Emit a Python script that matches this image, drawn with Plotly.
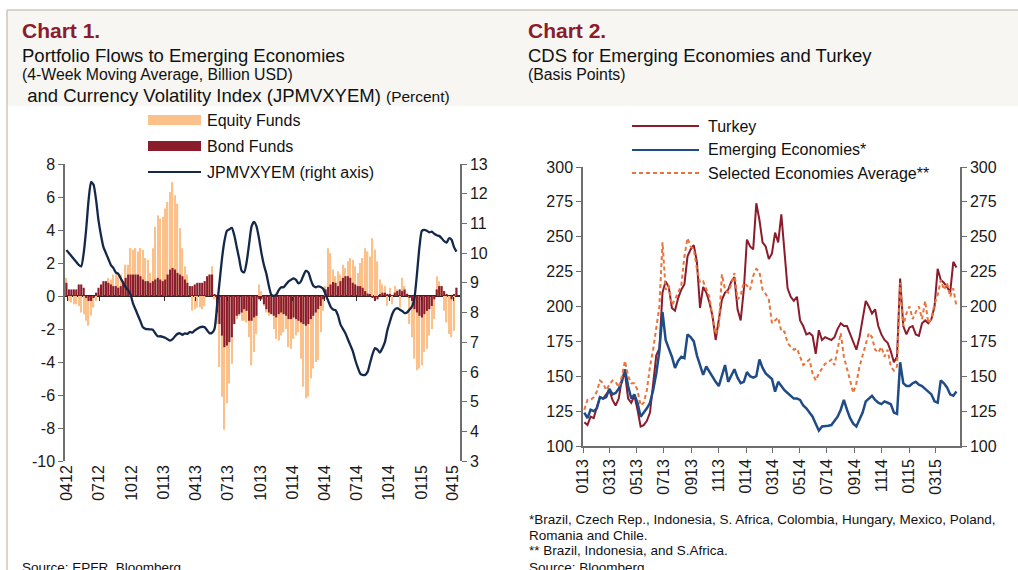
import pandas as pd
import plotly.graph_objects as go

# ---- Chart 1: weekly portfolio flows (bn USD) and JPMVXYEM (%) ----
flow_weeks = pd.date_range("2012-03-30", periods=159, freq="7D")

equity_funds = [
    1.1, -0.3, -0.4, -0.5, -0.5, -0.6, -1.0, -1.1, -1.5, -1.8,
    -1.2, -0.7, -0.3, 0.2, 0.6, 0.7, 0.8, 1.1, 1.0, 1.3,
    1.4, 1.2, 1.3, 0.9, 1.9, 1.9, 2.9, 2.8, 2.9, 2.7,
    2.9, 2.8, 2.3, 2.2, 1.4, 2.9, 4.2, 4.9, 4.7, 4.8,
    5.3, 5.7, 6.3, 6.9, 6.1, 5.6, 4.1, 2.9, 1.8, 1.3,
    0.2, -0.9, -0.8, -0.7, -0.7, -0.8, -0.6, 0.3, 1.3, 1.8,
    -0.2, -1.7, -4.3, -6.1, -8.1, -6.5, -5.3, -4.1, -1.5, -1.4,
    -1.2, -1.5, -1.5, -1.6, -2.5, -4.2, -3.4, -2.3, 0.7, 0.3,
    -0.6, -1.0, -1.2, -1.1, -2.0, -2.6, -2.7, -2.4, -2.2, -2.0,
    -3.1, -3.2, -2.6, -2.4, -2.2, -3.8, -5.5, -6.2, -6.1, -5.0,
    -4.4, -4.0, -3.9, -2.2, -0.9, 0.6, 2.9, 2.6, 1.6, 1.2,
    1.5, 1.3, 1.9, 1.7, 2.1, 2.3, 2.2, 1.8, 1.4, 2.0,
    2.3, 2.9, 2.7, 2.4, 3.5, 2.8, 2.1, 1.0, 0.7, 0.6,
    -0.6, 0.5, -0.5, 0.6, 0.4, -0.7, 1.1, 0.6, 0.2, -1.7,
    -2.5, -3.8, -4.5, -4.4, -4.2, -3.4, -3.2, -2.4, -2.0, -1.4,
    1.2, 0.9, 0.6, -0.9, -1.6, -2.3, -2.5, -2.1, 0.5,
]

bond_funds = [
    0.8, 0.4, 0.4, 0.4, 0.4, 0.7, 0.7, 0.5, -0.1, -0.3,
    -0.3, -0.1, 0.2, 0.5, 0.7, 0.9, 0.9, 0.8, 0.7, 0.6,
    0.6, 0.5, 0.6, 0.9, 1.1, 1.3, 1.3, 1.3, 1.3, 1.3,
    1.2, 1.0, 0.9, 0.9, 0.8, 0.9, 1.0, 1.1, 1.0, 0.9,
    1.0, 1.3, 1.6, 1.7, 1.6, 1.4, 1.3, 1.2, 1.0, 0.8,
    0.6, 0.6, 0.7, 0.8, 0.8, 0.8, 0.9, 1.2, 1.3, 1.3,
    0.1, -1.0, -1.7, -2.4, -3.1, -3.0, -2.8, -2.5, -1.7, -1.2,
    -1.1, -1.0, -0.8, -0.9, -1.5, -1.5, -1.3, -1.2, -0.2, -0.2,
    -0.5, -0.8, -1.0, -1.1, -1.2, -1.3, -1.1, -1.0, -1.1, -1.2,
    -1.4, -1.4, -1.3, -1.4, -1.5, -1.6, -1.7, -1.8, -1.7, -1.4,
    -1.2, -1.0, -0.8, -0.6, -0.2, 0.4, 0.55, 0.7, 0.85, 0.8,
    0.6, 0.9, 1.1, 1.2, 1.2, 1.1, 0.8, 0.7, 0.6, 0.6,
    0.5, 0.3, 0.15, 0.1, -0.1, -0.3, -0.2, 0.1, 0.2, 0.2,
    0.1, 0.1, 0.05, 0.2, 0.3, 0.4, 0.3, 0.4, 0.1, -0.1,
    -0.3, -0.8, -1.0, -1.2, -1.3, -1.1, -0.9, -0.8, -0.6, -0.2,
    0.4, 0.6, 0.6, 0.3, 0.1, 0.0, -0.2, 0.1, 0.5,
]

jpmvxyem = [
    10.1, 10.0, 9.9, 9.8, 9.7, 9.6, 9.55, 10.0, 10.8, 11.8,
    12.4, 12.3, 11.8, 11.1, 10.6, 10.2, 10.0, 9.8, 9.6, 9.5,
    9.35, 9.3, 9.15, 9.0, 8.85, 8.75, 8.6, 8.3, 8.1, 7.9,
    7.7, 7.5, 7.45, 7.44, 7.43, 7.42, 7.3, 7.2, 7.2, 7.18,
    7.15, 7.1, 7.05, 7.1, 7.2, 7.28, 7.3, 7.25, 7.3, 7.28,
    7.35, 7.32, 7.4, 7.45, 7.5, 7.52, 7.5, 7.4, 7.3, 7.32,
    7.45, 8.2, 9.0, 9.8, 10.4, 10.75, 10.8, 10.85, 10.6, 10.2,
    9.8, 9.4, 9.35, 9.7, 10.3, 10.9, 11.05, 10.9, 10.5, 10.0,
    9.6, 9.3, 8.9, 8.6, 8.56, 8.6, 8.75, 8.85, 8.85, 8.95,
    9.05, 9.1, 9.15, 9.1, 8.98, 9.05, 9.25, 9.4, 9.35, 9.1,
    8.9, 8.85, 8.88, 8.86, 8.8, 8.6, 8.4, 8.2, 8.1, 8.08,
    7.9, 7.6, 7.45, 7.3, 7.1, 6.9, 6.7, 6.4, 6.15, 5.95,
    5.9, 5.9, 6.0, 6.3, 6.6, 6.8, 6.75, 6.65, 6.8, 7.0,
    7.4, 7.68, 7.95, 8.1, 8.15, 8.1, 8.05, 7.98, 8.0, 8.1,
    8.2, 8.5, 9.3, 10.2, 10.75, 10.78, 10.75, 10.7, 10.72, 10.65,
    10.6, 10.58, 10.5, 10.4, 10.35, 10.5, 10.45, 10.2, 10.05,
]

flow_ticks = [-10, -8, -6, -4, -2, 0, 2, 4, 6, 8]

# ---- Chart 2: CDS (basis points), weekly readings ----
cds_weeks = pd.date_range("2013-01-04", periods=120, freq="7D")

turkey = [
    117, 115, 121, 120, 128, 135, 134, 137, 140, 133,
    129, 134, 148, 152, 134, 131, 136, 126, 114, 115,
    118, 124, 143, 165, 170, 210, 218, 214, 199, 197,
    206, 212, 216, 236, 241, 244, 232, 199, 214, 210,
    203, 193, 176, 190, 205, 210, 212, 218, 221, 198,
    190, 212, 248, 243, 241, 274, 262, 246, 243, 234,
    238, 253, 246, 266, 239, 213, 207, 204, 207, 190,
    186, 180, 181, 179, 166, 183, 176, 178, 177, 176,
    178, 184, 188, 186, 186, 180, 174, 169, 178, 190,
    204, 200, 195, 198, 186, 180, 176, 174, 168, 160,
    164, 220, 186, 180, 185, 186, 180, 179, 188, 190,
    188, 191, 200, 227, 219, 217, 214, 210, 232, 228,
]

emerging = [
    124, 120, 126, 125, 127, 135, 134, 135, 141, 137,
    138, 141, 146, 155, 143, 134, 137, 131, 121, 124,
    127, 131, 140, 152, 168, 196, 176, 170, 164, 156,
    161, 164, 163, 180, 178, 175, 165, 158, 151, 157,
    153, 149, 146, 143, 150, 158, 146, 150, 155, 149,
    145, 146, 153, 150, 149, 150, 162, 156, 152, 150,
    148, 139, 146, 143, 140, 138, 136, 134, 134, 133,
    129, 127, 124, 121, 116, 111, 114, 114, 114.5, 115,
    118, 121, 126, 133, 126, 120, 116, 114, 119, 124,
    132, 134, 136, 133, 131, 130, 132, 131, 130, 124,
    123, 160, 145, 143, 143, 145, 146, 144, 143, 141,
    139, 137, 132, 131, 147, 145, 142, 137, 136, 139,
]

selected_avg = [
    126, 133, 133, 135, 139, 147, 145, 140, 144, 147,
    146, 142, 150, 161, 150, 145, 145, 140, 129, 131,
    140, 157, 169, 183, 200, 246, 212, 215, 201, 205,
    210, 215, 236, 249, 243, 241, 227, 217, 218, 212,
    207, 192, 180, 186, 223, 212, 210, 216, 224, 205,
    208, 217, 215, 212, 222, 227, 225, 212, 209, 205,
    188, 190, 192, 182, 182, 174, 171, 169, 170, 164,
    158, 160, 162, 152, 147, 152, 156, 159, 160, 162,
    158, 169, 181, 164, 156, 147, 138, 145, 157, 165,
    174, 181, 178, 169, 167, 171, 164, 169, 157, 154,
    157, 217, 186, 195, 200, 191, 196, 200, 191, 204,
    188, 191, 202, 208, 219, 212, 217, 207, 213, 200,
]

EQUITY_C = "#fcc08a"
BOND_C = "#8a1c2c"
VIX_C = "#14284b"
TURKEY_C = "#8c1c2c"
EM_C = "#1f4b87"
SEL_C = "#e8743b"
TITLE_C = "#8a1c2c"
FONT = "Liberation Sans, Arial, sans-serif"

W, H = 1018, 570


def px(x):
    return x / W


def py(y):
    return 1 - y / H


WEEK_MS = 7 * 24 * 3600 * 1000

fig = go.Figure()

fig.add_trace(go.Bar(x=flow_weeks, y=equity_funds, marker_color=EQUITY_C,
                     marker_line_width=0, width=WEEK_MS * 0.55,
                     xaxis="x", yaxis="y", name="Equity Funds"))
fig.add_trace(go.Bar(x=flow_weeks, y=bond_funds, marker_color=BOND_C,
                     marker_line_width=0, width=WEEK_MS * 0.85,
                     xaxis="x", yaxis="y", name="Bond Funds"))
# invisible helper on the zero-line axis (draws the small quarter ticks on y=0)
fig.add_trace(go.Scatter(x=flow_weeks, y=bond_funds, mode="lines", opacity=0,
                         hoverinfo="skip", xaxis="x3", yaxis="y", showlegend=False))
fig.add_trace(go.Scatter(x=flow_weeks, y=jpmvxyem, mode="lines",
                         line=dict(color=VIX_C, width=2.3, shape="spline", smoothing=0.6),
                         xaxis="x", yaxis="y2", name="JPMVXYEM (right axis)"))

fig.add_trace(go.Scatter(x=cds_weeks, y=turkey, mode="lines",
                         line=dict(color=TURKEY_C, width=2),
                         xaxis="x2", yaxis="y3", name="Turkey"))
fig.add_trace(go.Scatter(x=cds_weeks, y=emerging, mode="lines",
                         line=dict(color=EM_C, width=2.5),
                         xaxis="x2", yaxis="y3", name="Emerging Economies*"))
fig.add_trace(go.Scatter(x=cds_weeks, y=selected_avg, mode="lines",
                         line=dict(color=SEL_C, width=2, dash="4px,3px"),
                         xaxis="x2", yaxis="y3", name="Selected Economies Average**"))
# invisible copy so the mirrored right axis of chart 2 is drawn
fig.add_trace(go.Scatter(x=cds_weeks, y=emerging, mode="lines", opacity=0,
                         hoverinfo="skip", xaxis="x2", yaxis="y4", showlegend=False))

axis_font = dict(family=FONT, size=16, color="#1a1a1a")
line_c = "#6e6e6e"
common = dict(showgrid=False, tickfont=axis_font, automargin=False)
yline = dict(showline=True, linecolor=line_c, linewidth=1.5, ticks="outside",
             ticklen=5, tickcolor=line_c)

fig.update_layout(
    width=W, height=H,
    margin=dict(l=0, r=0, t=0, b=0, pad=0, autoexpand=False),
    paper_bgcolor="white",
    plot_bgcolor="rgba(0,0,0,0)",
    showlegend=False,
    barmode="overlay",
    font=dict(family=FONT, color="#1a1a1a"),
    xaxis=dict(domain=[px(65), px(460)], anchor="y", type="date",
               range=["2012-03-26", "2015-04-20"], tick0="2012-01-01", dtick="M3",
               tickformat="%m%y", tickangle=-90, showline=False, ticks="",
               zeroline=False, **common),
    xaxis3=dict(overlaying="x", matches="x", anchor="free", position=py(296),
                type="date", tick0="2012-01-01", dtick="M3", showticklabels=False,
                showline=False, ticks="outside", ticklen=4, tickcolor="#3d2020",
                zeroline=False, **common),
    yaxis=dict(domain=[py(461), py(164)], anchor="x", range=[-10, 8],
               tickmode="array", tickvals=flow_ticks,
               ticktext=[str(v) for v in flow_ticks],
               zeroline=True, zerolinecolor="#3d2020", zerolinewidth=1.5,
               **yline, **common),
    yaxis2=dict(overlaying="y", side="right", anchor="x", range=[3, 13], dtick=1,
                zeroline=False, **yline, **common),
    xaxis2=dict(domain=[px(583), px(960)], anchor="y3", type="date",
                range=["2013-01-01", "2015-04-25"], tick0="2013-01-01", dtick="M2",
                tickformat="%m%y", tickangle=-90, zeroline=False, **yline, **common),
    yaxis3=dict(domain=[py(446), py(167)], anchor="x2", range=[100, 300], dtick=25,
                zeroline=False, **yline, **common),
    yaxis4=dict(overlaying="y3", side="right", anchor="x2", range=[100, 300], dtick=25,
                zeroline=False, **yline, **common),
)

shapes = [
    # header band and frame
    dict(type="rect", xref="paper", yref="paper", x0=px(7), x1=1, y0=py(106), y1=py(10),
         fillcolor="#f7f6f2", line_width=0, layer="below"),
    dict(type="line", xref="paper", yref="paper", x0=px(7), x1=1, y0=py(10), y1=py(10),
         line=dict(color="#cdc6bc", width=1.5)),
    dict(type="line", xref="paper", yref="paper", x0=px(7), x1=px(7), y0=0, y1=py(10),
         line=dict(color="#cdc6bc", width=1.5)),
]

annotations = []


def text(x, y, s, size=15, **kw):
    annotations.append(dict(xref="paper", yref="paper", x=px(x), y=py(y), text=s,
                            showarrow=False, xanchor="left", yanchor="middle",
                            font=dict(family=FONT, size=size, color=kw.pop("color", "#111")),
                            **kw))


# titles
text(20, 31, "<b>Chart 1.</b>", 21, color=TITLE_C)
text(20, 56, "Portfolio Flows to Emerging Economies", 18.5)
text(20, 75, "(4-Week Moving Average, Billion USD)", 15.8)
text(20, 96, "&nbsp;and Currency Volatility Index (JPMVXYEM) "
             "<span style='font-size:15.5px'>(Percent)</span>", 18.5)
text(526, 31, "<b>Chart 2.</b>", 21, color=TITLE_C)
text(526, 56, "CDS for Emerging Economies and Turkey", 18.5)
text(526, 75, "(Basis Points)", 15.8)

# legend chart 1
left_legend = [("Equity Funds", "bar", EQUITY_C, 120),
               ("Bond Funds", "bar", BOND_C, 146),
               ("JPMVXYEM (right axis)", "line", VIX_C, 172)]
for label, kind, color, yy in left_legend:
    if kind == "bar":
        shapes.append(dict(type="rect", xref="paper", yref="paper", x0=px(148), x1=px(201),
                           y0=py(yy + 5), y1=py(yy - 5), fillcolor=color, line_width=0))
    else:
        shapes.append(dict(type="line", xref="paper", yref="paper", x0=px(148), x1=px(201),
                           y0=py(yy), y1=py(yy), line=dict(color=color, width=2)))
    text(205, yy, label, 16)

# legend chart 2
right_legend = [("Turkey", TURKEY_C, "solid", 126),
                ("Emerging Economies*", EM_C, "solid", 150),
                ("Selected Economies Average**", SEL_C, "4px,3px", 173)]
for label, color, dash, yy in right_legend:
    shapes.append(dict(type="line", xref="paper", yref="paper", x0=px(632), x1=px(699),
                       y0=py(yy), y1=py(yy), line=dict(color=color, width=2, dash=dash)))
    text(706, yy, label, 16)

# footnotes
text(527, 519, "*Brazil, Czech Rep., Indonesia, S. Africa, Colombia, Hungary, Mexico, Poland,", 13.5)
text(527, 535, "Romania and Chile.", 13.5)
text(527, 550, "** Brazil, Indonesia, and S.Africa.", 13.5)
text(527, 567, "Source: Bloomberg", 13.5)
text(20, 567, "Source: EPFR, Bloomberg", 13.5)

fig.update_layout(shapes=shapes, annotations=annotations)

fig.write_html("out.html", config={"displayModeBar": False},
               post_script="document.body.style.margin='0';"
                           "document.body.style.overflow='hidden';")
